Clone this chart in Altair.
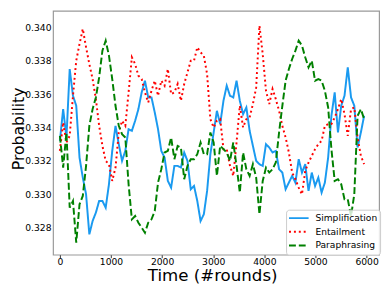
import altair as alt
import pandas as pd

rounds = [0, 64, 128, 192, 256, 320, 384, 448, 512, 576, 640, 704, 768, 832, 896, 960,
          1024, 1088, 1152, 1216, 1280, 1344, 1408, 1472, 1536, 1600, 1664, 1728, 1792,
          1856, 1920, 1984, 2048, 2112, 2176, 2240, 2304, 2368, 2432, 2496, 2560, 2624,
          2688, 2752, 2816, 2880, 2944, 3008, 3072, 3136, 3200, 3264, 3328, 3392, 3456,
          3520, 3584, 3648, 3712, 3776, 3840, 3904, 3968, 4032, 4096, 4160, 4224, 4288,
          4352, 4416, 4480, 4544, 4608, 4672, 4736, 4800, 4864, 4928, 4992, 5056, 5120,
          5184, 5248, 5312, 5376, 5440, 5504, 5568, 5632, 5696, 5760, 5824, 5888, 5952]

simplification = [0.3332, 0.3351, 0.3334, 0.3375, 0.3359, 0.3353, 0.3322, 0.3310, 0.3300, 0.3276,
                  0.3284, 0.3289, 0.3296, 0.3296, 0.3292, 0.3306, 0.3326, 0.3341, 0.3330, 0.3320,
                  0.3326, 0.3339, 0.3338, 0.3344, 0.3351, 0.3361, 0.3368, 0.3358, 0.3358, 0.3349,
                  0.3339, 0.3326, 0.3322, 0.3308, 0.3304, 0.3317, 0.3317, 0.3316, 0.3325, 0.3320,
                  0.3303, 0.3305, 0.3296, 0.3284, 0.3288, 0.3302, 0.3324, 0.3337, 0.3350, 0.3342,
                  0.3356, 0.3365, 0.3359, 0.3358, 0.3368, 0.3356, 0.3348, 0.3352, 0.3338, 0.3329,
                  0.3320, 0.3318, 0.3317, 0.3330, 0.3328, 0.3325, 0.3326, 0.3315, 0.3313, 0.3303,
                  0.3307, 0.3311, 0.3307, 0.3321, 0.3313, 0.3318, 0.3302, 0.3313, 0.3305, 0.3310,
                  0.3301, 0.3307, 0.3322, 0.3347, 0.3361, 0.3337, 0.3353, 0.3359, 0.3376, 0.3358,
                  0.3353, 0.3328, 0.3337, 0.3347]

entailment = [0.3326, 0.3343, 0.3331, 0.3335, 0.3359, 0.3380, 0.3390, 0.3399, 0.3388, 0.3378,
              0.3369, 0.3357, 0.3341, 0.3329, 0.3320, 0.3318, 0.3308, 0.3316, 0.3337, 0.3344,
              0.3341, 0.3361, 0.3382, 0.3378, 0.3371, 0.3369, 0.3361, 0.3355, 0.3362, 0.3368,
              0.3359, 0.3368, 0.3365, 0.3375, 0.3360, 0.3361, 0.3366, 0.3356, 0.3366, 0.3373,
              0.3380, 0.3380, 0.3388, 0.3385, 0.3383, 0.3372, 0.3345, 0.3340, 0.3344, 0.3345,
              0.3327, 0.3327, 0.3317, 0.3311, 0.3331, 0.3353, 0.3340, 0.3345, 0.3346, 0.3354,
              0.3364, 0.3401, 0.3384, 0.3362, 0.3354, 0.3363, 0.3357, 0.3350, 0.3341, 0.3334,
              0.3325, 0.3313, 0.3309, 0.3304, 0.3300, 0.3314, 0.3319, 0.3323, 0.3327, 0.3330,
              0.3332, 0.3341, 0.3342, 0.3342, 0.3346, 0.3351, 0.3357, 0.3348, 0.3335, 0.3351,
              0.3352, 0.3334, 0.3323, 0.3318]

paraphrasing = [0.3335, 0.3316, 0.3337, 0.3292, 0.3296, 0.3271, 0.3294, 0.3299, 0.3317, 0.3341,
                0.3351, 0.3358, 0.3370, 0.3386, 0.3392, 0.3383, 0.3369, 0.3353, 0.3341, 0.3336,
                0.3334, 0.3306, 0.3285, 0.3287, 0.3283, 0.3280, 0.3277, 0.3283, 0.3285, 0.3290,
                0.3307, 0.3315, 0.3325, 0.3326, 0.3334, 0.3321, 0.3329, 0.3328, 0.3309, 0.3317,
                0.3321, 0.3321, 0.3324, 0.3331, 0.3324, 0.3324, 0.3337, 0.3331, 0.3311, 0.3329,
                0.3327, 0.3325, 0.3320, 0.3331, 0.3317, 0.3301, 0.3325, 0.3315, 0.3311, 0.3318,
                0.3310, 0.3288, 0.3308, 0.3316, 0.3313, 0.3315, 0.3319, 0.3337, 0.3353, 0.3368,
                0.3375, 0.3381, 0.3386, 0.3392, 0.3389, 0.3382, 0.3376, 0.3380, 0.3368, 0.3369,
                0.3368, 0.3362, 0.3352, 0.3327, 0.3308, 0.3309, 0.3306, 0.3297, 0.3297, 0.3287,
                0.3300, 0.3347, 0.3351, 0.3345]

series_names = ["Simplification", "Entailment", "Paraphrasing"]
series_colors = ["#1a9af0", "#ff0000", "#008000"]
series_dashes = [[1, 0], [2, 3], [7, 3]]
x_ticks = [0, 1000, 2000, 3000, 4000, 5000, 6000]
y_ticks = [0.328, 0.330, 0.332, 0.334, 0.336, 0.338, 0.340]

rows = []
for name, vals in zip(series_names, [simplification, entailment, paraphrasing]):
    for r, v in zip(rounds, vals):
        rows.append({"round": r, "prob": v, "series": name})
df = pd.DataFrame(rows)

FONT = "DejaVu Sans"

legend = alt.Legend(
    title=None, orient="none", legendX=238, legendY=203,
    symbolType="stroke", symbolSize=400, symbolStrokeWidth=2,
    labelFontSize=9.3, labelFont=FONT, labelColor="#000000",
    clipHeight=13.2, rowPadding=0, padding=2, labelOffset=6,
    fillColor="rgba(255,255,255,0.8)", strokeColor="#cccccc", cornerRadius=3,
)

base = alt.Chart(df).mark_line(strokeWidth=2).encode(
    x=alt.X("round:Q",
            scale=alt.Scale(domain=[-134, 6245], nice=False, zero=False),
            axis=alt.Axis(values=x_ticks, format="d", title="Time (#rounds)", grid=False,
                          domain=False, tickSize=3, tickColor="#333333", labelPadding=0,
                          labelFlush=False, labelFontSize=9.4, labelFont=FONT,
                          labelColor="#000000", titleFontSize=17, titleFont=FONT,
                          titleFontWeight="normal", titleColor="#000000", titleX=162.5,
                          titleY=26.5, titleBaseline="alphabetic")),
    y=alt.Y("prob:Q",
            scale=alt.Scale(domain=[0.32638, 0.34098], nice=False, zero=False),
            axis=alt.Axis(values=y_ticks, format=".3f", title="Probability", grid=False,
                          domain=False, ticks=False, labelPadding=2,
                          labelFontSize=9.4, labelFont=FONT, labelColor="#000000",
                          titleFontSize=16, titleFont=FONT, titleFontWeight="normal",
                          titleColor="#000000", titleX=-30, titleY=120,
                          titleBaseline="alphabetic")),
    color=alt.Color("series:N", scale=alt.Scale(domain=series_names, range=series_colors),
                    legend=legend),
    strokeDash=alt.StrokeDash("series:N", scale=alt.Scale(domain=series_names, range=series_dashes),
                              legend=legend),
)

layers = [base.transform_filter(alt.datum.series == n) for n in series_names]

chart = alt.layer(*layers).properties(
    width=333, height=249,
    padding={"left": 46, "top": 0, "right": 5, "bottom": 31},
    autosize=alt.AutoSizeParams(type="none"),
).configure_view(stroke="#999999", strokeWidth=1.2)

chart.save("out.html", embed_options={"renderer": "svg", "actions": False})
